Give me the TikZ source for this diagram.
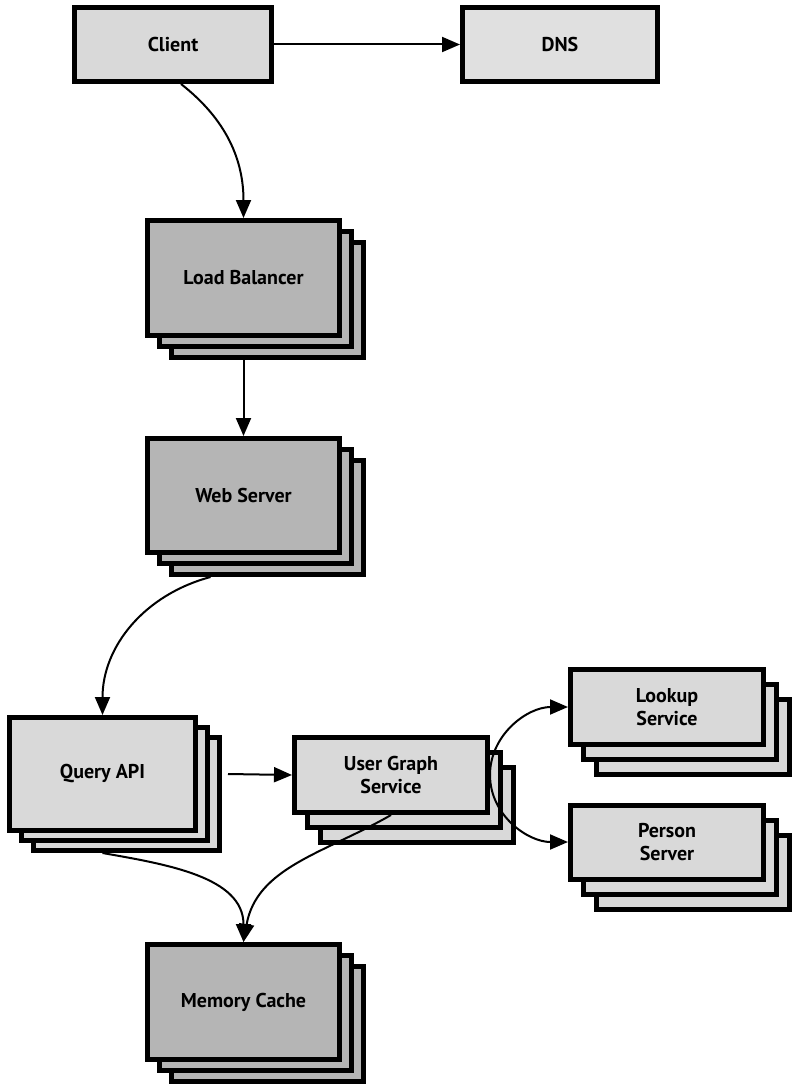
\documentclass[tikz,border=0pt]{standalone}
\usepackage{fontspec}
\setmainfont{PT Sans}
\usetikzlibrary{arrows.meta,shadows}

\tikzset{
  box/.style={draw, line width=5pt, rectangle, align=center,
    font=\bfseries\fontsize{20}{23}\selectfont, inner sep=2pt},
  light/.style={fill=gray!30},
  dark/.style={fill=gray!58},
  stack/.style n args={3}{
    copy shadow={shadow xshift=2*#1, shadow yshift=2*#2, fill=#3, line width=5pt},
    copy shadow={shadow xshift=#1, shadow yshift=#2, fill=#3, line width=5pt}},
  conn/.style={draw, line width=2pt, -{Triangle[length=18pt,width=15pt]}}
}

\begin{document}
\begin{tikzpicture}[x=1pt,y=-1pt]
            \useasboundingbox (0,0) rectangle (794,1089);
            \begin{scope}[every node/.style={box}]
                \node[light, minimum width=197pt, minimum height=74pt] (client) at (173,44.5) {Client};
                \node[light, fill=gray!24, minimum width=195pt, minimum height=74pt] (dns) at (560,44.5) {DNS};

                \node[dark, stack={12pt}{-11pt}{gray!58}, minimum width=192pt, minimum height=115pt] (lb) at (243.5,278) {Load Balancer};
                \node[dark, stack={12pt}{-11pt}{gray!58}, minimum width=192pt, minimum height=114pt] (web) at (243.5,495.5) {Web Server};

                \node[light, stack={12pt}{-10pt}{gray!30}, minimum width=186pt, minimum height=113pt] (qapi) at (102.5,774) {Query API};
                \node[light, stack={13pt}{-15pt}{gray!30}, minimum width=193pt, minimum height=75pt] (ugs) at (391,775) {User Graph\\Service};

                \node[light, stack={13pt}{-15pt}{gray!30}, minimum width=193pt, minimum height=75pt] (lookup) at (667,707) {Lookup\\Service};
                \node[light, stack={13pt}{-15pt}{gray!30}, minimum width=193pt, minimum height=74pt] (person) at (667,842) {Person\\Server};

                \node[dark, stack={12pt}{-11pt}{gray!58}, minimum width=192pt, minimum height=115pt] (cache) at (243.5,1002) {Memory Cache};
            \end{scope}
            \begin{scope}[every edge/.style={conn}]
                \path (client) edge (dns);
                \path ([xshift=8pt]client.south) edge[out=-38, in=90] (lb.north);
                \path ([yshift=-22pt]lb.south) edge (web.north);
                \path ([xshift=-33pt,yshift=-22pt]web.south) edge[out=195, in=90] (qapi.north);

                \path ([xshift=30pt]qapi.east) edge (ugs.west);
                \path (ugs.east) edge[out=90, in=180] (lookup.west);
                \path (ugs.east) edge[out=-90, in=180] (person.west);

                \path ([yshift=-20pt]qapi.south) edge[out=-10, in=90] (cache.north);
                \path (ugs.south) edge[out=-150, in=80] (cache.north);
            \end{scope}
        \end{tikzpicture}
\end{document}
